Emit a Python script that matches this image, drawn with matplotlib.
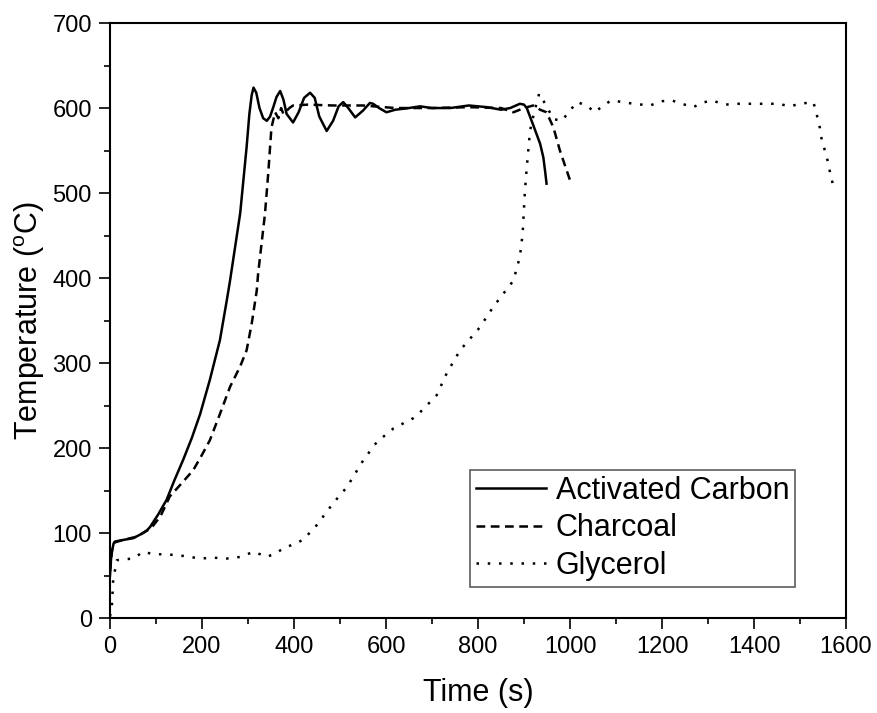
import numpy as np
import matplotlib
matplotlib.use("Agg")
import matplotlib.pyplot as plt

plt.rcParams['font.family'] = ['Liberation Sans', 'DejaVu Sans']
plt.rcParams['mathtext.fontset'] = 'custom'
plt.rcParams['mathtext.rm'] = 'Liberation Sans'

# Activated Carbon (solid)
ac_t = [0, 3, 8, 11, 30, 51, 65, 80, 87, 105, 123, 140, 159, 178, 196, 217, 239,
        254, 261, 283, 297, 303, 308, 312, 318, 325, 333, 341, 348, 355, 362, 370,
        377, 384, 398, 410, 422, 435, 445, 455, 471, 485, 497, 507, 518, 533, 550,
        565, 572, 585, 601, 620, 650, 674, 700, 740, 780, 820, 850, 870, 891, 900,
        906, 920, 935, 942, 946, 949]
ac_T = [50, 75, 88, 90, 92, 94, 98, 103, 107, 122, 139, 162, 186, 212, 240, 280, 327,
        374, 397, 476, 554, 593, 615, 624, 618, 600, 588, 585, 590, 601, 613, 620,
        610, 593, 583, 595, 612, 618, 612, 590, 573, 585, 602, 607, 600, 589, 597,
        606, 605, 600, 595, 598, 600, 602, 600, 600, 603, 601, 598, 600, 605, 604,
        600, 580, 558, 542, 525, 511]

# Charcoal (dashed)
ch_t = [0, 5, 10, 30, 60, 90, 110, 130, 155, 181, 200, 217, 239, 261, 283, 297,
        308, 319, 322, 337, 344, 348, 351, 359, 366, 372, 377, 390, 398, 430, 485,
        550, 620, 700, 780, 850, 877, 900, 920, 935, 949, 964, 978, 1000]
ch_T = [55, 82, 89, 92, 96, 106, 120, 143, 158, 174, 192, 209, 240, 272, 296, 315,
        346, 385, 405, 476, 523, 554, 577, 595, 588, 600, 593, 600, 603, 604, 603,
        603, 600, 600, 601, 600, 595, 600, 603, 598, 595, 577, 550, 515]

# Glycerol (dotted)
gl_t = [0, 4, 7, 15, 30, 51, 72, 95, 123, 160, 196, 225, 254, 285, 312, 341, 360,
        377, 400, 420, 449, 485, 515, 551, 580, 616, 659, 674, 710, 732, 761, 804,
        833, 877, 891, 897, 902, 906, 913, 920, 927, 933, 946, 964, 982, 1000, 1015,
        1036, 1054, 1072, 1090, 1138, 1174, 1199, 1221, 1243, 1268, 1286, 1308, 1337,
        1366, 1406, 1453, 1478, 1500, 1529, 1536, 1543, 1547, 1554, 1561, 1566, 1572]
gl_T = [2, 13, 45, 68, 69, 70, 78, 75, 75, 73, 70, 71, 70, 72, 78, 72, 76,
        82, 87, 92, 109, 135, 154, 186, 207, 223, 235, 242, 262, 288, 315, 342,
        366, 397, 425, 452, 503, 530, 573, 590, 605, 617, 605, 587, 585, 597, 607,
        603, 595, 603, 609, 605, 603, 608, 609, 605, 601, 606, 609, 604,
        605, 605, 605, 602, 605, 607, 593, 577, 563, 550, 536, 522, 509]

fig = plt.figure(figsize=(8.77, 7.13), dpi=100)
ax = fig.add_axes([0.1254, 0.1332, 0.8393, 0.8345])

ax.plot(ac_t, ac_T, color='black', lw=1.8, ls='-', label='Activated Carbon')
ax.plot(ch_t, ch_T, color='black', lw=1.8, dashes=(3.5, 2.2), label='Charcoal')
ax.plot(gl_t, gl_T, color='black', lw=1.8, dashes=(1, 3.5), label='Glycerol')

ax.set_xlim(0, 1600)
ax.set_ylim(0, 700)
ax.set_xticks(np.arange(0, 1601, 200))
ax.set_xticks(np.arange(100, 1600, 200), minor=True)
ax.set_yticks(np.arange(0, 701, 100))
ax.set_yticks(np.arange(50, 700, 100), minor=True)

for s in ax.spines.values():
    s.set_linewidth(1.5)
ax.tick_params(which='major', direction='out', length=8, width=1.2,
               labelsize=17, pad=5, top=False, right=False)
ax.tick_params(which='minor', direction='out', length=4, width=1.2,
               top=False, right=False)

ax.set_xlabel('Time (s)', fontsize=22, labelpad=14)
ax.set_ylabel('Temperature ($\\mathregular{^{o}}$C)', fontsize=22, labelpad=4)

leg = ax.legend(loc='lower right', bbox_to_anchor=(0.931, 0.052), fontsize=22,
                frameon=True, fancybox=False, edgecolor='#333333',
                handlelength=2.3, handletextpad=0.3, labelspacing=0.25,
                borderpad=0.2, borderaxespad=0)
leg.get_frame().set_linewidth(1.2)

fig.savefig('out.png', dpi=100)
